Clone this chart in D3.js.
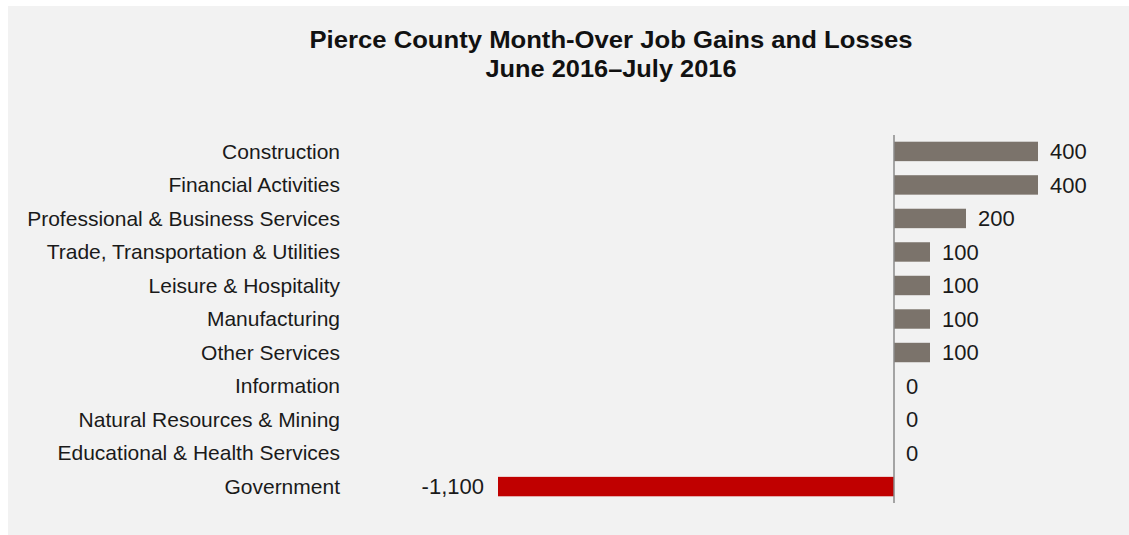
<!DOCTYPE html>
<html>
<head>
<meta charset="utf-8">
<script src="https://cdnjs.cloudflare.com/ajax/libs/d3/7.8.5/d3.min.js"></script>
<style>
  body { margin: 0; background: #ffffff; }
  text { font-family: "Liberation Sans", Arial, sans-serif; }
</style>
</head>
<body>
<div id="chart-area"></div>
<script>
// data
var categories = ["Construction", "Financial Activities", "Professional & Business Services",
    "Trade, Transportation & Utilities", "Leisure & Hospitality", "Manufacturing",
    "Other Services", "Information", "Natural Resources & Mining",
    "Educational & Health Services", "Government"];
var changes = [400, 400, 200, 100, 100, 100, 100, 0, 0, 0, -1100];
var titleLines = ["Pierce County Month-Over Job Gains and Losses", "June 2016\u2013July 2016"];

var width = 1129;
var height = 535;
var titleWidths = [603, 251];

var data = categories.map(function(c, i) { return {name: c, value: changes[i]}; });

var svg = d3.select("#chart-area")
    .append("svg")
    .attr("width", width)
    .attr("height", height);

// grey panel
svg.append("rect")
    .attr("x", 8)
    .attr("y", 6)
    .attr("width", width - 8)
    .attr("height", height - 6)
    .attr("fill", "#f2f2f2");

svg.selectAll("text.title")
    .data(titleLines)
    .enter().append("text")
    .attr("class", "title")
    .attr("x", 611)
    .attr("y", (d, i) => 48 + i * 29)
    .attr("text-anchor", "middle")
    .attr("font-size", "24px")
    .attr("font-weight", "bold")
    .attr("fill", "#111")
    .attr("textLength", (d, i) => titleWidths[i])
    .attr("lengthAdjust", "spacingAndGlyphs")
    .text(d => d);

var x = d3.scaleLinear()
    .domain([-1100, 400])
    .range([498, 1038]);

var y = d3.scaleBand()
    .domain(categories)
    .range([135, 503])
    .paddingInner(0.42)
    .paddingOuter(0.2);

// bars
svg.selectAll("rect.bar")
    .data(data)
    .enter().append("rect")
    .attr("class", "bar")
    .attr("x", d => x(Math.min(0, d.value)))
    .attr("y", d => y(d.name))
    .attr("width", d => Math.abs(x(d.value) - x(0)))
    .attr("height", y.bandwidth())
    .attr("fill", d => d.value < 0 ? "#c00000" : "#7b736b");

// zero axis line
svg.append("line")
    .attr("x1", x(0))
    .attr("x2", x(0))
    .attr("y1", 135)
    .attr("y2", 503)
    .attr("stroke", "#8a8a8a")
    .attr("stroke-width", 1.5);

// category labels
svg.selectAll("text.cat")
    .data(data)
    .enter().append("text")
    .attr("class", "cat")
    .attr("x", 340)
    .attr("y", d => y(d.name) + y.bandwidth() / 2)
    .attr("dy", "0.35em")
    .attr("text-anchor", "end")
    .attr("font-size", "21px")
    .attr("fill", "#1a1a1a")
    .text(d => d.name);

// value labels, plain hyphen for the minus like the original
var fmt = d3.format(",");
svg.selectAll("text.val")
    .data(data)
    .enter().append("text")
    .attr("class", "val")
    .attr("x", d => d.value < 0 ? x(d.value) - 14 : x(d.value) + 12)
    .attr("y", d => y(d.name) + y.bandwidth() / 2)
    .attr("dy", "0.35em")
    .attr("text-anchor", d => d.value < 0 ? "end" : "start")
    .attr("font-size", "22px")
    .attr("fill", "#1a1a1a")
    .text(d => fmt(d.value).replace("\u2212", "-"));
</script>
</body>
</html>
